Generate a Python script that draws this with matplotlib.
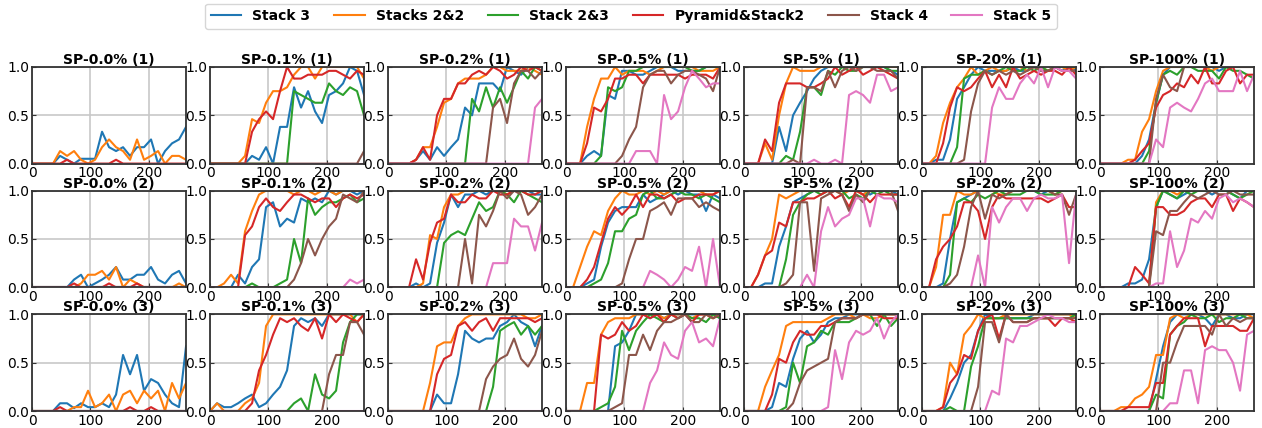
import matplotlib
matplotlib.use("Agg")
import matplotlib.pyplot as plt
import numpy as np

# evaluation step (every 12 episodes, 0..264)
steps = np.arange(0, 265, 12)

titles = ["SP-0.0% (1)", "SP-0.1% (1)", "SP-0.2% (1)", "SP-0.5% (1)", "SP-5% (1)", "SP-20% (1)", "SP-100% (1)",
          "SP-0.0% (2)", "SP-0.1% (2)", "SP-0.2% (2)", "SP-0.5% (2)", "SP-5% (2)", "SP-20% (2)", "SP-100% (2)",
          "SP-0.0% (3)", "SP-0.1% (3)", "SP-0.2% (3)", "SP-0.5% (3)", "SP-5% (3)", "SP-20% (3)", "SP-100% (3)"]
labels = ["Stack 3", "Stacks 2&2", "Stack 2&3", "Pyramid&Stack2", "Stack 4", "Stack 5"]
colors = ["tab:blue", "tab:orange", "tab:green", "tab:red", "tab:brown", "tab:pink"]

# success rate, one row per panel (row-major order of the grid)
stack3 = [
    [0,0,0,0,.08,.04,0,.05,.05,.05,.33,.17,.13,.17,.08,.17,.17,.25,0,.13,.21,.25,.38],
    [0,0,0,0,0,0,.08,.04,.17,0,.38,.38,.79,.58,.75,.54,.42,.71,.75,.83,1,.96,.71],
    [0,0,0,0,.04,.13,.04,.17,.08,.17,.25,.58,.5,.83,.83,.83,.75,1,.96,.92,1,1,1],
    [0,0,0,.08,.13,.08,.71,.67,.96,.96,.92,.92,.96,1,1,1,.96,.96,.96,.96,1,1,1],
    [0,0,0,0,0,.38,.13,.5,.63,.75,.88,.96,1,1,1,1,1,1,1,1,1,.96,.92],
    [0,0,.04,.04,.25,.67,.79,.92,1,.96,.96,.96,.96,1,.96,.96,1,.96,.96,1,.96,1,.96],
    [0,0,0,0,0,0,.08,.25,.63,.92,1,1,1,1,1,1,1,.96,1,1,1,1,1],
    [0,0,0,0,0,0,.08,.13,0,.04,.08,.13,.21,.08,.08,.13,.13,.21,.08,.04,.13,.17,.04],
    [0,0,0,0,.13,.04,.21,.29,.83,.88,.63,.71,.67,.92,.88,.92,.88,1,.96,1,1,.96,1],
    [0,0,0,0,.04,0,.04,.46,.67,.96,.83,.96,.96,1,.96,1,1,1,1,1,1,.96,.96],
    [0,0,0,.04,.08,.42,.67,.79,.83,.83,.83,.96,.88,.92,.96,1,.96,1,.96,.96,.79,.96,.92],
    [0,0,0,.04,.04,.42,.63,.88,.92,.96,1,1,1,1,1,1,1,1,.96,1,1,1,.96],
    [0,0,0,.04,.5,.88,.92,.96,1,1,1,1,1,1,1,1,1,.96,1,1,1,1,1],
    [0,0,0,0,.04,.04,.08,.29,.83,1,.96,.92,.96,1,1,1,.96,1,1,.96,.92,1,1],
    [0,0,0,0,.08,.08,.03,.08,.04,.04,.08,.04,.17,.58,.38,.58,.21,.33,.29,.17,.08,.04,.67],
    [0,.08,.04,.04,.08,.13,.17,.04,.08,.17,.25,.42,.88,.96,.92,.96,.88,1,1,1,1,1,1],
    [0,0,0,0,0,0,0,.17,.08,.08,.38,.83,.75,.71,.75,.75,.88,.92,1,.92,.88,.67,.88],
    [0,0,0,0,0,0,0,.67,.71,.83,1,1,.96,1,.96,1,1,1,1,1,1,1,.96],
    [0,0,0,0,.04,.29,.25,.54,.75,.83,.71,.79,.92,.96,.96,1,1,1,1,1,1,1,1],
    [0,0,0,0,.13,.29,.5,.58,.83,1,.96,.96,.96,.96,.96,.96,1,1,1,1,1,1,1],
    [0,0,0,0,0,0,0,0,.33,.67,.92,1,1,1,1,.96,.88,1,1,.96,.96,1,1],
]
stacks22 = [
    [0,0,0,0,.13,.08,.13,.04,0,.04,.17,.25,.17,.13,.04,.25,.04,.08,.13,0,.08,.08,.04],
    [0,0,0,0,0,.08,.46,.42,.63,.75,.75,.79,.92,1,1,.88,1,1,1,1,1,1,.88],
    [0,0,0,0,.04,.17,.17,.38,.63,.67,.83,.88,.88,.88,.92,1,1,.96,.96,.96,1,.96,.92],
    [0,0,0,.38,.67,.88,.88,1,.92,.96,.96,.96,.92,.96,1,1,1,1,1,.96,.96,.96,1],
    [0,0,0,.21,.04,.5,.83,1,.96,.96,.96,1,1,1,1,1,1,1,1,1,1,1,1],
    [0,0,.08,.42,.63,.79,.88,1,.92,.96,1,.96,.96,1,1,.96,1,1,.96,1,1,.96,1],
    [0,0,0,0,.04,.04,.33,.46,.75,.96,1,1,1,1,1,1,.96,1,1,1,1,1,1],
    [0,0,0,0,0,0,0,.04,.13,.13,.17,.08,.21,0,.08,.04,0,0,0,0,0,.04,0],
    [0,0,.04,.13,.04,.58,.79,.96,1,1,1,1,.96,1,1,.96,1,1,.96,1,1,1,1],
    [0,0,0,0,0,.04,.54,.5,.83,.96,.96,1,1,1,1,1,1,.96,1,1,1,1,1],
    [0,0,.21,.42,.58,.54,.79,.92,1,.96,.96,1,.96,1,.96,1,1,1,1,1,.96,.96,1],
    [0,0,.13,.33,.5,.96,.92,.96,1,1,1,1,1,1,.96,1,1,.96,1,1,1,1,1],
    [0,0,.21,.75,.75,1,.96,.96,1,1,1,.96,.96,1,1,1,1,1,1,.96,1,1,1],
    [0,0,0,0,0,0,0,0,.88,1,1,.96,1,1,1,1,1,1,1,1,1,1,1],
    [0,0,0,0,0,0,.04,.04,.21,.04,.08,.17,0,.17,.21,.08,.21,.13,.21,0,.29,.13,.29],
    [0,.08,0,0,0,.08,.13,.29,.88,1,1,1,1,1,1,1,1,1,1,1,1,.92,1],
    [0,0,0,0,0,0,.29,.67,.71,.71,.88,.96,1,1,1,1,1,1,1,1,.96,.96,1],
    [0,0,0,.29,.29,.79,.92,.96,.96,.96,1,1,1,1,.96,1,1,1,.96,1,1,.96,1],
    [0,0,0,.25,.42,.58,.88,.92,.92,.92,.92,.92,.96,1,1,1,.96,1,.96,.96,1,1,1],
    [0,0,0,.04,.5,.38,.79,.88,1,.96,.96,.96,1,1,1,1,1,1,1,1,1,1,.96],
    [0,0,0,.04,.04,.13,.17,.25,.58,.58,.96,1,.96,1,1,1,1,1,1,1,1,1,.96],
]
stack23 = [
    [0,0,0,0,0,0,0,0,0,0,0,0,0,0,0,0,0,0,0,0,0,0,0],
    [0,0,0,0,0,0,0,0,0,0,0,0,.75,.71,.67,.63,.63,.83,.75,.71,.79,.75,.5],
    [0,0,0,0,0,0,0,0,0,0,0,0,.67,.54,.79,.58,.79,.63,.79,.96,.88,1,.96],
    [0,0,0,0,0,.08,.79,.75,.79,.96,.96,1,1,1,1,1,1,1,.96,.96,1,1,1],
    [0,0,0,0,0,0,.08,.04,.33,.79,.79,.71,.96,.92,1,.96,.96,1,1,1,1,.96,.96],
    [0,0,0,0,0,.17,.88,.92,.92,.96,.92,.96,1,.96,.96,1,.96,1,.96,1,1,1,1],
    [0,0,0,0,0,0,0,.13,.63,.92,.96,.92,1,1,.96,.96,.96,.88,1,.96,.96,.92,.88],
    [0,0,0,0,0,0,0,0,0,0,0,0,0,0,0,0,0,0,0,0,0,0,0],
    [0,0,0,0,0,0,.04,0,0,0,.04,.08,.5,.25,.92,.75,.83,.88,.88,.92,.96,.88,.92],
    [0,0,0,0,0,0,0,0,.46,.54,.58,.54,.71,.88,.79,.83,1,.96,.88,1,.96,.92,.88],
    [0,0,0,0,.04,.08,.25,.58,.58,.71,.75,.96,1,.92,.92,.96,1,.96,.96,.92,.96,.92,.88],
    [0,0,0,0,0,0,.29,.75,.88,.96,1,.96,1,1,1,.92,.96,.92,1,.96,1,.96,.96],
    [0,0,0,0,.13,.88,.92,.88,.96,.92,.96,1,.96,.96,.96,1,1,.96,.96,.96,1,1,1],
    [0,0,0,0,0,0,0,0,.83,1,.96,.92,1,.96,1,1,1,1,1,.96,.92,.96,1],
    [0,0,0,0,0,0,0,0,0,0,0,0,0,0,0,0,0,0,0,0,0,0,0],
    [0,0,0,0,0,0,0,0,0,0,0,0,.08,.13,0,.38,.17,.13,.21,.71,.92,1,1],
    [0,0,0,0,0,0,0,0,0,0,0,0,0,0,0,.25,.83,.88,.92,.79,.88,.79,.88],
    [0,0,0,0,0,.04,.08,.25,.83,.63,.83,.92,1,.96,.92,1,.96,1,.96,.96,.92,1,.96],
    [0,0,0,0,0,0,.04,.5,.29,.67,.71,.83,.79,.92,.92,.92,.96,1,1,.88,1,.88,.96],
    [0,0,0,0,.04,0,0,.46,.67,.96,.96,.96,.96,.96,.96,.96,.96,.96,.96,.96,.96,.96,1],
    [0,0,0,0,0,0,0,0,.17,.13,.79,.88,.92,1,.96,.96,1,.92,.96,.96,1,.96,.96],
]
pyramid2 = [
    [0,0,0,0,0,.04,0,0,0,0,0,0,.04,0,0,0,0,0,0,0,0,0,0],
    [0,0,0,0,0,0,.33,.46,.54,.46,.75,1,.88,.88,.92,.92,.92,.96,.96,.92,.88,.96,.92],
    [0,0,0,0,.04,.17,.04,.5,.67,.67,.83,.83,.92,.96,.92,1,.96,.88,.92,1,.96,1,.96],
    [0,0,0,.21,.58,.54,.67,.88,.88,.92,.92,.83,.92,.92,.92,.92,.92,.88,.92,.92,.92,.88,1],
    [0,0,0,.25,.13,.63,.83,.83,.83,.79,.79,.83,.88,1,.92,.96,1,.92,.96,1,.96,.92,.88],
    [0,0,0,.21,.58,.79,.75,.79,.88,.96,.79,.92,.79,1,.88,.92,.96,.92,.96,.96,.92,1,.92],
    [0,0,0,0,0,.04,.13,.21,.58,.71,.75,.83,.79,.92,.83,1,.83,.83,.96,1,.83,.92,.92],
    [0,0,0,0,0,0,.04,0,0,0,0,.04,0,0,0,.04,0,0,0,0,0,0,0],
    [0,0,0,0,0,.54,.63,.83,.92,.83,.79,.88,.96,.96,.92,.88,.92,.92,.83,.92,.96,.92,.96],
    [0,0,0,0,.29,.08,.46,.67,.71,.96,.88,.88,.96,.92,.92,1,.96,.96,1,1,.96,.96,1],
    [0,0,0,.08,.21,.46,.71,.83,.75,.83,.96,.83,.96,.96,.92,.96,.88,.92,.92,.96,.96,.96,1],
    [0,0,.13,.33,.38,.67,.63,.88,.88,.92,.92,.96,1,.92,.96,.83,1,.96,.88,.96,.96,.96,.96],
    [0,0,.29,.42,.5,.63,.88,.88,.79,.5,.83,.96,.92,.92,.92,.92,.92,.92,.88,.92,.96,.83,.83],
    [0,0,0,0,0,.21,.13,.04,.83,.83,.75,.75,.79,.88,.92,.92,.83,.96,.96,.79,.92,.88,.83],
    [0,0,0,0,.04,0,0,0,0,0,0,0,0,0,.04,0,0,.04,0,0,0,0,0],
    [0,0,0,0,0,0,.08,.42,.58,.79,.96,.92,.96,.88,.83,.96,.75,1,.92,1,.96,.92,1],
    [0,0,0,0,0,0,0,.38,.54,.58,.88,.92,.83,.92,.96,.83,.96,.96,.96,.96,.96,.92,.96],
    [0,0,0,0,0,.79,.75,.79,.92,.83,.88,1,.96,1,.92,1,.96,1,.92,1,1,.96,1],
    [0,0,0,0,.17,.54,.5,.71,.83,.79,.79,.88,.88,.92,.96,.96,.96,1,1,1,.96,.96,.96],
    [0,0,0,.04,.29,.38,.58,.54,.83,.96,1,.75,1,.92,.92,.92,.96,.96,.96,.88,.96,.96,.92],
    [0,0,0,0,.04,.04,.04,.04,.29,.29,.79,.88,.96,.96,.96,.67,.88,.88,.88,.88,.83,.83,.96],
]
stack4 = [
    [0,0,0,0,0,0,0,0,0,0,0,0,0,0,0,0,0,0,0,0,0,0,0],
    [0,0,0,0,0,0,0,0,0,0,0,0,0,0,0,0,0,0,0,0,0,0,.13],
    [0,0,0,0,0,0,0,0,0,0,0,0,0,0,0,.58,.67,.42,.83,.96,.96,.88,.96],
    [0,0,0,0,0,0,0,0,.08,.25,.38,.79,.92,.96,.96,.83,.92,.96,.96,.92,.88,.75,1],
    [0,0,0,0,0,0,0,.04,0,.79,.79,.75,.96,.79,.96,1,.96,1,1,.96,.96,.96,.88],
    [0,0,0,0,0,0,.04,.54,.83,.96,.92,.96,.92,.96,.92,.96,1,.96,.96,1,.96,.96,.96],
    [0,0,0,0,0,0,0,0,.67,.92,.79,.75,1,1,1,1,1,1,1,1,1,1,1],
    [0,0,0,0,0,0,0,0,0,0,0,0,0,0,0,0,0,0,0,0,0,0,0],
    [0,0,0,0,0,0,0,0,0,0,0,0,.08,.25,.5,.33,.5,.63,.71,.96,.92,.88,1],
    [0,0,0,0,0,0,0,0,0,0,0,.5,.04,.75,.63,.79,1,.92,1,.96,.75,.83,.96],
    [0,0,0,0,0,0,0,0,.04,.29,.5,.5,.79,.83,.88,.75,.92,.92,.92,.83,.88,.83,.79],
    [0,0,0,0,0,0,.04,.13,.88,.88,.17,.92,.96,1,.96,.79,.96,.88,1,1,1,1,.79],
    [0,0,0,0,.04,.13,.42,.83,1,.71,.96,.92,.96,1,1,1,1,1,1,.96,.96,.75,.96],
    [0,0,0,0,0,0,0,0,.58,.54,.79,.79,.88,.96,.92,.96,1,.96,.96,1,.96,.96,.96],
    [0,0,0,0,0,0,0,0,0,0,0,0,0,0,0,0,0,0,0,0,0,0,0],
    [0,0,0,0,0,0,0,0,0,0,0,0,0,0,0,0,0,.38,.58,.58,.92,.92,.79],
    [0,0,0,0,0,0,0,0,0,0,0,0,0,0,.33,.46,.54,.58,.75,.54,.46,.58,.83],
    [0,0,0,0,0,0,0,.04,.08,.58,.58,.79,.63,.83,.92,.92,.96,1,.92,.92,1,.96,1],
    [0,0,0,0,0,0,0,.08,.29,.42,.46,.5,.54,.92,.96,.96,.96,1,1,1,1,1,1],
    [0,0,0,0,0,0,0,0,.25,.92,.92,.71,1,.92,.92,.92,.96,.96,.96,.96,.96,.96,.96],
    [0,0,0,0,0,0,0,0,0,.5,.5,.71,.88,.88,.88,.88,.79,1,.88,.96,.92,.96,.96],
]
stack5 = [
    [0,0,0,0,0,0,0,0,0,0,0,0,0,0,0,0,0,0,0,0,0,0,0],
    [0,0,0,0,0,0,0,0,0,0,0,0,0,0,0,0,0,0,0,0,0,0,0],
    [0,0,0,0,0,0,0,0,0,0,0,0,0,0,0,0,0,0,0,0,0,.58,.67],
    [0,0,0,0,0,0,0,0,0,0,.13,.13,.13,0,.71,.46,.54,.79,.96,.88,.79,.83,.83],
    [0,0,0,0,0,0,0,0,0,0,.04,0,0,.04,0,.71,.75,.71,.63,.92,.92,.75,.79],
    [0,0,0,0,0,0,0,0,0,0,.58,.79,.67,.67,.83,.92,.83,1,.79,1,.96,.96,.88],
    [0,0,0,0,0,0,0,0,.25,.17,.58,.63,.58,.54,.67,.83,.88,.75,.75,.75,.96,.75,.92],
    [0,0,0,0,0,0,0,0,0,0,0,0,0,0,0,0,0,0,0,0,0,0,0],
    [0,0,0,0,0,0,0,0,0,0,0,0,0,0,0,0,0,0,0,0,.08,.04,.08],
    [0,0,0,0,0,0,0,0,0,0,0,0,0,0,0,.25,.25,.25,.71,.63,.63,.38,.67],
    [0,0,0,0,0,0,0,0,0,0,0,0,.17,.13,.08,0,.08,.21,.17,.42,0,.5,0],
    [0,0,0,0,0,0,0,0,0,.13,0,.58,.83,.63,.71,.75,.92,.92,.63,.96,.92,.92,.88],
    [0,0,0,0,0,0,0,0,.33,0,.83,.67,.83,.92,.92,.79,.92,.96,.92,.92,.96,.25,.96],
    [0,0,0,0,0,0,0,0,.04,.04,.58,.21,.38,.71,.67,.79,.71,.92,.96,.88,.92,.88,.83],
    [0,0,0,0,0,0,0,0,0,0,0,0,0,0,0,0,0,0,0,0,0,0,0],
    [0,0,0,0,0,0,0,0,0,0,0,0,0,0,0,0,0,0,0,0,0,0,0],
    [0,0,0,0,0,0,0,0,0,0,0,0,0,0,0,0,0,0,0,0,0,0,0],
    [0,0,0,0,0,0,0,0,0,0,0,0,.29,.42,.71,.58,.54,.83,.92,.71,.75,.67,.96],
    [0,0,0,0,0,0,0,0,0,0,0,0,.04,.63,.33,.71,.83,.79,.83,.96,.75,.92,1],
    [0,0,0,0,0,0,0,0,0,0,.21,.17,.75,.71,.88,.88,.92,.96,1,.96,.96,.92,.92],
    [0,0,0,0,0,0,0,0,0,0,.08,.08,.42,.42,.08,.63,.67,.63,.63,.5,.21,.79,.83],
]

series = [stack3, stacks22, stack23, pyramid2, stack4, stack5]

fig, axes = plt.subplots(3, 7, figsize=(12.62, 4.28), dpi=100)
plt.subplots_adjust(left=0.0254, right=0.9937, top=0.8435, bottom=0.0397,
                    wspace=0.156, hspace=0.28)

for i, ax in enumerate(axes.flat):
    for s, lab, c in zip(series, labels, colors):
        ax.plot(steps, s[i], color=c, lw=1.5, label=lab)
    ax.set_xlim(0, 264)
    ax.set_ylim(0, 1)
    ax.set_xticks([0, 100, 200])
    ax.set_yticks([0, 0.5, 1.0])
    ax.set_title(titles[i], fontsize=10, fontweight="bold", pad=2)
    ax.tick_params(direction="in", labelsize=10, pad=2, length=3, color="#333333")
    ax.grid(True, color="#c8c8c8", lw=1.2)
    ax.set_axisbelow(True)
    for sp in ax.spines.values():
        sp.set_color("#333333")
        sp.set_linewidth(1.3)

handles, labs = axes[0, 0].get_legend_handles_labels()
fig.legend(handles, labs, loc="upper center", bbox_to_anchor=(0.5, 1.008), ncol=6,
           prop={"weight": "bold", "size": 10}, frameon=True, edgecolor="#cccccc",
           columnspacing=1.7, handlelength=2.2)

fig.savefig("out.png", dpi=100)
